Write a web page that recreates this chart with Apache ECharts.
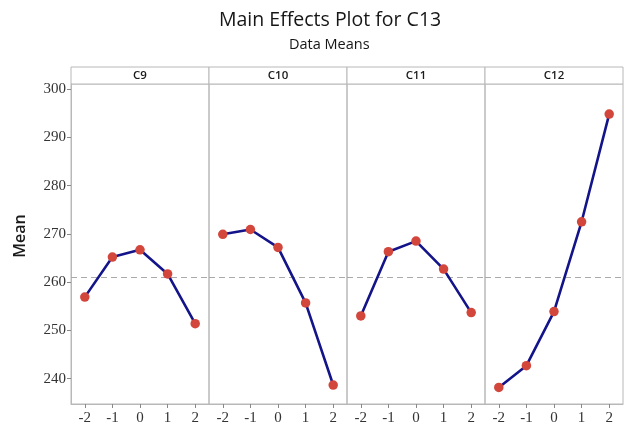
<!DOCTYPE html>
<html><head><meta charset="utf-8">
<script src="https://cdn.jsdelivr.net/npm/echarts@6/dist/echarts.min.js"></script>
<style>html,body{margin:0;padding:0;background:#fff}#c{width:630px;height:427px}</style>
</head><body><div id="c"></div>
<script>
const levels = ['-2', '-1', '0', '1', '2'];
const factors = ['C9', 'C10', 'C11', 'C12'];
const meansC9  = [256.9, 265.2, 266.7, 261.7, 251.4];
const meansC10 = [269.9, 270.9, 267.2, 255.7, 238.7];
const meansC11 = [253.0, 266.3, 268.5, 262.7, 253.7];
const meansC12 = [238.2, 242.7, 253.9, 272.5, 294.8];
const grandMean = 261.0;
const yTickValues = [240, 250, 260, 270, 280, 290, 300];
const allMeans = [meansC9, meansC10, meansC11, meansC12];

// layout
const L = 71, R = 623, TOP = 84, BOT = 404, STRIP = 17;
const W = (R - L) / 4;
const border = '#b8b8b8';

const grids = [], xAxes = [], yAxes = [], series = [], graphics = [];
factors.forEach((f, i) => {
  const left = L + i * W;
  grids.push({left: left, top: TOP, width: W, height: BOT - TOP, show: true, borderColor: border, borderWidth: 1, backgroundColor: 'transparent'});
  xAxes.push({
    type: 'category', gridIndex: i, data: levels, boundaryGap: true,
    axisLine: {show: true, lineStyle: {color: border}},
    axisTick: {show: true, alignWithLabel: true, length: 4, lineStyle: {color: '#888'}},
    axisLabel: {fontFamily: 'Liberation Serif', fontSize: 15, color: '#333', margin: 7}
  });
  yAxes.push({
    type: 'value', gridIndex: i, min: 234.77, max: 301.03,
    splitLine: {show: false},
    axisLine: {show: i === 0, lineStyle: {color: border}},
    axisTick: {show: i === 0, length: 4, customValues: yTickValues, lineStyle: {color: '#888'}},
    axisLabel: {show: i === 0, customValues: yTickValues, fontFamily: 'Liberation Serif', fontSize: 15, color: '#333', margin: 5}
  });
  series.push({
    type: 'line', xAxisIndex: i, yAxisIndex: i, data: allMeans[i],
    symbol: 'circle', symbolSize: 9.5,
    lineStyle: {color: '#14148a', width: 2.6},
    itemStyle: {color: '#d2463c'},
    z: 5,
    markLine: {
      silent: true, symbol: 'none', label: {show: false},
      lineStyle: {color: '#aaaaaa', type: [6, 4], width: 1.2},
      data: [{yAxis: grandMean}], z: 1
    }
  });
  graphics.push({
    type: 'rect', shape: {x: left, y: TOP - STRIP, width: W, height: STRIP},
    style: {fill: '#fff', stroke: border, lineWidth: 1}
  });
  graphics.push({
    type: 'text', x: left + W / 2, y: TOP - STRIP / 2,
    style: {text: f, fontFamily: 'Open Sans', fontSize: 11.5, fontWeight: 600, fill: '#1a1a1a', align: 'center', verticalAlign: 'middle'}
  });
});
graphics.push({
  type: 'text', x: 20, y: 236, rotation: Math.PI / 2,
  style: {text: 'Mean', fontFamily: 'Open Sans', fontSize: 16, fontWeight: 600, fill: '#1a1a1a', align: 'center', verticalAlign: 'middle'}
});

const chart = echarts.init(document.getElementById('c'), null, {renderer: 'canvas'});
chart.setOption({
  animation: false,
  backgroundColor: '#fff',
  title: [{
    text: 'Main Effects Plot for C13', left: 214, top: 5,
    textStyle: {fontFamily: 'Open Sans', fontSize: 19.5, fontWeight: 'normal', color: '#161616'}
  }, {
    text: 'Data Means', left: 284, top: 32,
    textStyle: {fontFamily: 'Open Sans', fontSize: 14.5, fontWeight: 'normal', color: '#161616'}
  }],
  grid: grids, xAxis: xAxes, yAxis: yAxes, series: series,
  graphic: graphics
});
</script></body></html>
